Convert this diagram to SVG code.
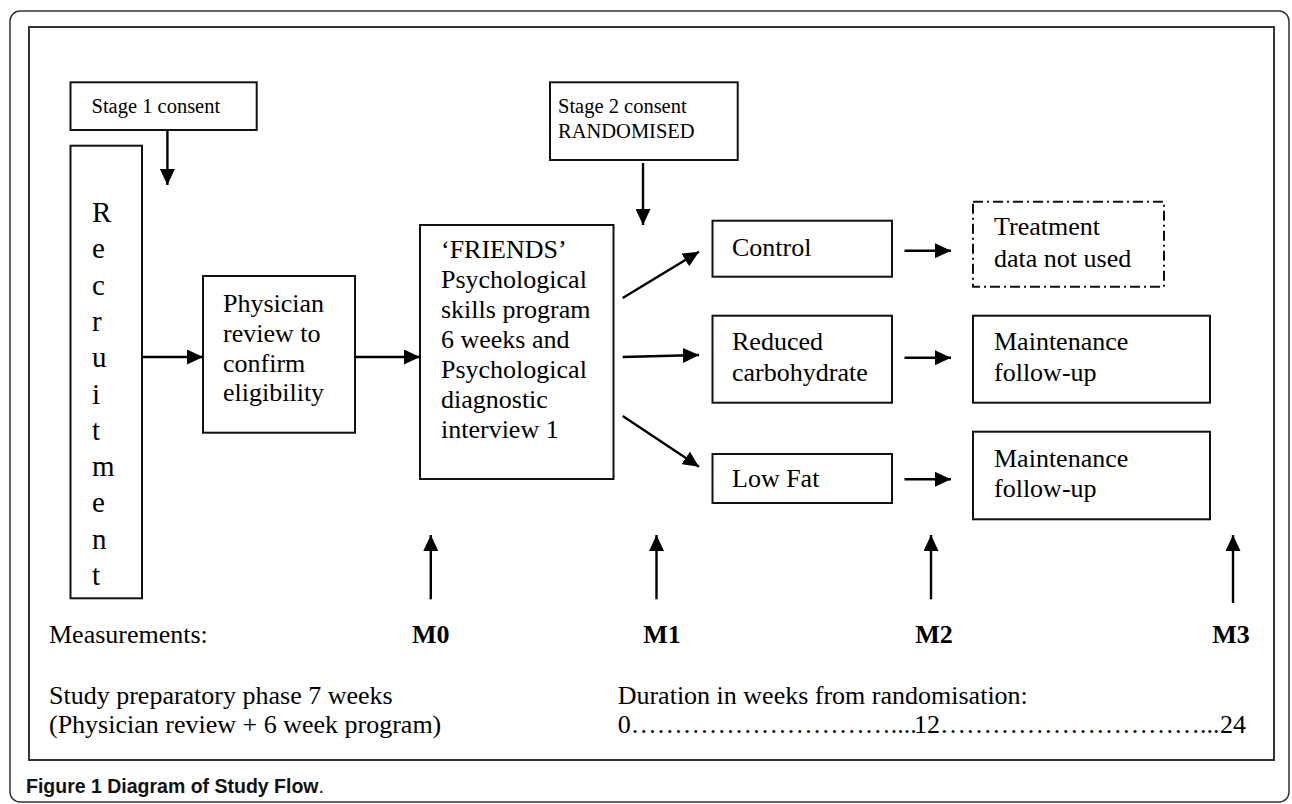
<svg xmlns="http://www.w3.org/2000/svg" width="1292" height="804" viewBox="0 0 1292 804">
<style>
.bx{fill:#fff;stroke:#111;stroke-width:2}
.t{font-family:"Liberation Serif","Times New Roman",serif;font-size:26px;fill:#000}
.s{font-size:20.5px}
.r{font-size:29px}
.b{font-weight:bold}
</style>
<defs>
<marker id="ahb" markerWidth="16" markerHeight="15" refX="16" refY="7.5" orient="auto" markerUnits="userSpaceOnUse">
<path d="M0,0 L16,7.5 L0,15 Z" fill="#000"/>
</marker>
</defs>
<rect x="10" y="11" width="1279" height="791" rx="10" fill="#fff" stroke="#333" stroke-width="1.5"/>
<rect x="29" y="27" width="1245" height="733" fill="none" stroke="#333" stroke-width="2"/>

<g id="stage1">
<rect class="bx" x="70.5" y="82.3" width="186.2" height="47.7"/>
<text class="t s" x="91.5" y="113">Stage 1 consent</text>
</g>
<g id="stage2">
<rect class="bx" x="550" y="82.3" width="187.7" height="77.7"/>
<text class="t s" x="558" y="113">Stage 2 consent</text>
<text class="t s" x="558" y="138">RANDOMISED</text>
</g>
<g id="recruitment">
<rect class="bx" x="70.5" y="145.7" width="71.5" height="452.6"/>
<text class="t r" x="92" y="222">R</text>
<text class="t r" x="92" y="258.3">e</text>
<text class="t r" x="92" y="294.6">c</text>
<text class="t r" x="92" y="330.9">r</text>
<text class="t r" x="92" y="367.2">u</text>
<text class="t r" x="92" y="403.5">i</text>
<text class="t r" x="92" y="439.8">t</text>
<text class="t r" x="92" y="476.1">m</text>
<text class="t r" x="92" y="512.4">e</text>
<text class="t r" x="92" y="548.7">n</text>
<text class="t r" x="92" y="585">t</text>
</g>
<g id="physician">
<rect class="bx" x="203" y="276" width="152" height="156.7"/>
<text class="t" x="223" y="311.5">Physician</text>
<text class="t" x="223" y="341.5">review to</text>
<text class="t" x="223" y="371.5">confirm</text>
<text class="t" x="223" y="401">eligibility</text>
</g>
<g id="friends">
<rect class="bx" x="420" y="225" width="193.5" height="254"/>
<text class="t" x="441" y="258">‘FRIENDS’</text>
<text class="t" x="441" y="288">Psychological</text>
<text class="t" x="441" y="318">skills program</text>
<text class="t" x="441" y="348">6 weeks and</text>
<text class="t" x="441" y="378">Psychological</text>
<text class="t" x="441" y="408">diagnostic</text>
<text class="t" x="441" y="438">interview 1</text>
</g>
<g id="control">
<rect class="bx" x="712.5" y="220.7" width="179.5" height="56"/>
<text class="t" x="732" y="256">Control</text>
</g>
<g id="treatment">
<rect x="973" y="201.7" width="191" height="85" fill="none" stroke="#111" stroke-width="2" stroke-dasharray="10 4 2 4"/>
<text class="t" x="994" y="235">Treatment</text>
<text class="t" x="994" y="267">data not used</text>
</g>
<g id="reduced">
<rect class="bx" x="712.5" y="315.7" width="179.5" height="87"/>
<text class="t" x="732" y="349.5">Reduced</text>
<text class="t" x="732" y="381">carbohydrate</text>
</g>
<g id="maint1">
<rect class="bx" x="973" y="315.7" width="237" height="87"/>
<text class="t" x="994" y="349.5">Maintenance</text>
<text class="t" x="994" y="381">follow-up</text>
</g>
<g id="lowfat">
<rect class="bx" x="712.5" y="454" width="179.5" height="49"/>
<text class="t" x="732" y="487">Low Fat</text>
</g>
<g id="maint2">
<rect class="bx" x="973" y="431.7" width="237" height="87.6"/>
<text class="t" x="994" y="467">Maintenance</text>
<text class="t" x="994" y="497">follow-up</text>
</g>

<g id="connectors" stroke="#000" stroke-width="2.4" fill="none">
<line x1="167.4" y1="130" x2="167.4" y2="185" marker-end="url(#ahb)"/>
<line x1="643" y1="163" x2="643" y2="225" marker-end="url(#ahb)"/>
<line x1="142" y1="357" x2="203" y2="357" marker-end="url(#ahb)"/>
<line x1="355" y1="357" x2="420" y2="357" marker-end="url(#ahb)"/>
<line x1="622.7" y1="298" x2="699" y2="251.7" marker-end="url(#ahb)"/>
<line x1="622.7" y1="357" x2="699" y2="355" marker-end="url(#ahb)"/>
<line x1="622.7" y1="416" x2="699" y2="466.7" marker-end="url(#ahb)"/>
<line x1="904.5" y1="250.7" x2="951" y2="250.7" marker-end="url(#ahb)"/>
<line x1="904.5" y1="357.7" x2="951" y2="357.7" marker-end="url(#ahb)"/>
<line x1="904.5" y1="479.3" x2="951" y2="479.3" marker-end="url(#ahb)"/>
<line x1="430.8" y1="599.3" x2="430.8" y2="535" marker-end="url(#ahb)"/>
<line x1="656.5" y1="599.3" x2="656.5" y2="535" marker-end="url(#ahb)"/>
<line x1="931" y1="599.3" x2="931" y2="535" marker-end="url(#ahb)"/>
<line x1="1233" y1="603" x2="1233" y2="535" marker-end="url(#ahb)"/>
</g>

<g id="labels">
<text class="t" x="49" y="643">Measurements:</text>
<text class="t b" x="430.8" y="643" text-anchor="middle">M0</text>
<text class="t b" x="662" y="643" text-anchor="middle">M1</text>
<text class="t b" x="934" y="643" text-anchor="middle">M2</text>
<text class="t b" x="1231" y="643" text-anchor="middle">M3</text>
<text class="t" x="49" y="704">Study preparatory phase 7 weeks</text>
<text class="t" x="49" y="733">(Physician review + 6 week program)</text>
<text class="t" x="617.7" y="704">Duration in weeks from randomisation:</text>
<text class="t" y="733"><tspan x="617.7">0…………………………....</tspan><tspan x="914">12…………………………...</tspan><tspan x="1220">24</tspan></text>
</g>
<text x="26" y="793" font-family="'Liberation Sans',Arial,sans-serif" font-size="19.5" fill="#111"><tspan font-weight="bold">Figure 1 Diagram of Study Flow</tspan>.</text>
</svg>
